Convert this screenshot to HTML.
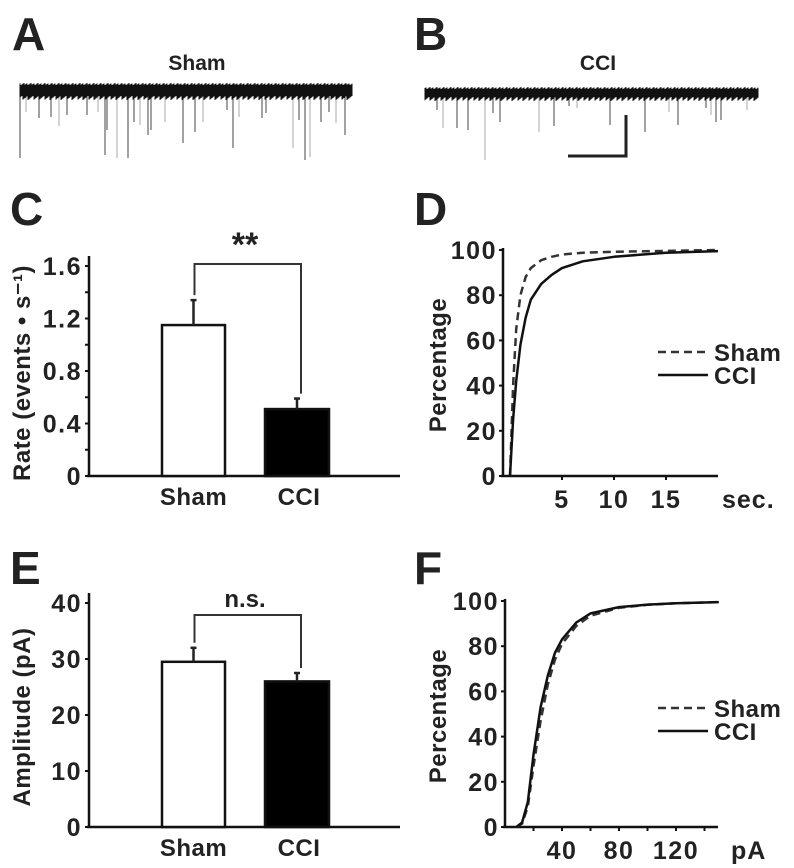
<!DOCTYPE html>
<html><head><meta charset="utf-8"><style>
html,body{margin:0;padding:0;background:#fff;}
svg{display:block;}
text{font-family:"Liberation Sans",Arial,sans-serif;font-weight:bold;fill:#222;}
</style></head><body>
<svg id="fig" width="794" height="868" viewBox="0 0 794 868">
<g id="root"></g>
</svg>
<script>
// Panel C data
const rateCats = ["Sham","CCI"];
const rateMeans = [1.15, 0.51];
const rateErrs = [0.19, 0.08];
const rateTicks = [0,0.4,0.8,1.2,1.6];
// Panel E data
const ampCats = ["Sham","CCI"];
const ampMeans = [29.5, 26.0];
const ampErrs = [2.5, 1.5];
const ampTicks = [0,10,20,30,40];
// Panel D data (inter-event interval CDF)
const ieiX = [0,0.3,0.6,1,1.5,2,3,4,5,7,10,15,20];
const ieiSham = [0,40,65,80,88,92,95.5,97,98,98.8,99.2,99.6,100];
const ieiCCI = [0,25,42,58,70,78,85,89,92,95,97,98.8,99.5];
const ieiTicks = [5,10,15];
// Panel F data (amplitude CDF)
const ampCdfX = [8,12,16,20,25,30,35,40,50,60,80,100,120,150];
const ampCdfSham = [0,1.5,9,27,47,63,74,81,89,93.5,97,98.3,99,99.5];
const ampCdfCCI = [0,2,11,32,53,67,77,83,90.5,94.5,97.3,98.4,99,99.5];
const ampCdfTicks = [40,80,120];
const pctTicks = [0,20,40,60,80,100];
// Trace event depths
const shamSpikeX = [20,26,39,51,59,67,87,98,105,107,117,128,134,140,148,151,165,183,195,203,227,233,239,262,266,293,299,305,310,321,329,336,345];
const shamSpikeY = [158,112,118,117,126,115,115,112,155,130,158,158,122,125,135,130,122,143,132,122,110,148,117,118,113,148,120,160,157,122,112,123,135];
const cciSpikeX = [437,443,457,468,485,493,500,539,554,569,577,610,645,669,678,706,711,716,721,747];
const cciSpikeY = [110,128,128,130,160,113,122,132,126,106,108,125,132,112,125,108,115,122,120,110];

const NS="http://www.w3.org/2000/svg";
const root=document.getElementById('root');
function mk(tag,attrs,parent){const e=document.createElementNS(NS,tag);for(const k in attrs)e.setAttribute(k,attrs[k]);(parent||root).appendChild(e);return e;}
function txt(x,y,s,size,anchor,parent,ls){const t=mk('text',{x:x,y:y,'font-size':size,'text-anchor':anchor||'middle'},parent);if(ls)t.setAttribute('letter-spacing',ls);t.textContent=s;return t;}

// Panel letters
[["A",12,50],["B",414,50],["C",10,225],["D",414,225],["E",10,584],["F",414,584]].forEach(p=>{
 const t=txt(p[1],p[2],p[0],46,'start');
 
 
});

// Traces
function trace(x0,x1,yTop,yBot,sx,sy,name,title,tx){
 const g=mk('g',{});
 
 
 const t=txt(tx,70,title,21,'middle',g);
 
 
 for(let i=0;i<sx.length;i++){
  mk('line',{x1:sx[i],x2:sx[i],y1:yBot-2,y2:sy[i],stroke:i%3==1?'#aaa':'#444','stroke-width':1},g);
 }
 let d='';
 for(let x=x0;x<=x1;x+=1){const j=((x*37)%7)/3;const k=((x*53)%11)/2.5;d+='M'+x+' '+(yTop-j)+'V'+(yBot+k);}
 mk('path',{d:d,stroke:'#111','stroke-width':1,fill:'none'},g);
}
trace(20,352,85,96,shamSpikeX,shamSpikeY,'sham-trace','Sham',197);
trace(425,758,89,97,cciSpikeX,cciSpikeY,'cci-trace','CCI',598);
const sb=mk('polyline',{points:'568,156 626,156 626,115',fill:'none',stroke:'#222','stroke-width':3});



// Bar chart
function barChart(cfg){
 const g=mk('g',{});
 
 
 const yS=v=>cfg.y0-(v-cfg.ticks[0])/(cfg.ticks[cfg.ticks.length-1]-cfg.ticks[0])*(cfg.y0-cfg.y1);
 const ax=mk('line',{x1:cfg.ax,x2:cfg.ax,y1:cfg.y1-10,y2:cfg.y0+1,stroke:'#111','stroke-width':2.5},g);
 
 const xa=mk('line',{x1:cfg.ax-2,x2:400,y1:cfg.y0,y2:cfg.y0,stroke:'#111','stroke-width':2.5},g);
 
 cfg.ticks.forEach((t,i)=>{
  const y=yS(t);
  mk('line',{x1:cfg.ax-4,x2:cfg.ax,y1:y,y2:y,stroke:'#111','stroke-width':2},g);
  if(cfg.minor&&i<cfg.ticks.length-1){const ym=(y+yS(cfg.ticks[i+1]))/2;mk('line',{x1:cfg.ax-4,x2:cfg.ax,y1:ym,y2:ym,stroke:'#111','stroke-width':2},g);}
  const l=txt(cfg.ax-7,y+9,cfg.fmt(t),25,'end',g,1.5);
  
 });
 const yt=txt(0,0,cfg.ytitle,24,'middle',g,0.5);
 yt.setAttribute('transform','translate('+cfg.ytx+','+((cfg.y0+cfg.y1)/2+2)+') rotate(-90)');
 
 const bx=[[162,225],[265,329]];
 const tops=[];
 cfg.cats.forEach((c,i)=>{
  const top=yS(cfg.means[i]),eb=yS(cfg.means[i]+cfg.errs[i]);
  const cx=(bx[i][0]+bx[i][1])/2;
  const r=mk('rect',{x:bx[i][0],y:top,width:bx[i][1]-bx[i][0],height:cfg.y0-top,fill:i?'#000':'#fff',stroke:'#111','stroke-width':2.5},g);
  
  mk('line',{x1:cx,x2:cx,y1:top,y2:eb,stroke:'#222','stroke-width':2.5},g);
  mk('line',{x1:cx-3,x2:cx+3,y1:eb,y2:eb,stroke:'#222','stroke-width':2.5},g);
  tops.push([cx,eb]);
  const xl=txt(cx+(i?2:0),cfg.y0+29,c,24,'middle',g,0.5);
  
 });
 const br=mk('polyline',{points:(tops[0][0]+1)+','+(tops[0][1]-5)+' '+(tops[0][0]+1)+','+cfg.by+' '+(tops[1][0]+4)+','+cfg.by+' '+(tops[1][0]+4)+','+(tops[1][1]-5),fill:'none',stroke:'#333','stroke-width':2},g);
 
 const st=txt(245,cfg.by-8,cfg.sig,cfg.sigSize,'middle',g);
 
}
barChart({name:'rate-chart',cats:rateCats,means:rateMeans,errs:rateErrs,ticks:rateTicks,ax:89,y0:476,y1:266,minor:true,fmt:t=>t===0?'0':t.toFixed(1),ytitle:'Rate (events \u2022 s\u207B\u00B9)',ytx:30,by:264,sig:'**',sigSize:34});
barChart({name:'amplitude-chart',cats:ampCats,means:ampMeans,errs:ampErrs,ticks:ampTicks,ax:89,y0:827,y1:603,minor:false,fmt:t=>String(t),ytitle:'Amplitude (pA)',ytx:30,by:615,sig:'n.s.',sigSize:24});

// CDF charts
function cdf(cfg){
 const g=mk('g',{});
 
 
 const xS=v=>cfg.x0+v*cfg.kx;
 const yS=v=>cfg.y0-v/100*(cfg.y0-cfg.y1);
 const ya=mk('line',{x1:cfg.ax,x2:cfg.ax,y1:cfg.y1-2,y2:cfg.y0+1,stroke:'#111','stroke-width':2.5},g);
 
 const xa=mk('line',{x1:cfg.ax-2,x2:cfg.xEnd,y1:cfg.y0,y2:cfg.y0,stroke:'#111','stroke-width':2.5},g);
 
 pctTicks.forEach(t=>{
  const y=yS(t);
  mk('line',{x1:cfg.ax-4,x2:cfg.ax,y1:y,y2:y,stroke:'#111','stroke-width':2},g);
  const l=txt(cfg.ax-6,y+9,String(t),25,'end',g,1.5);
  
 });
 cfg.minorX.forEach(t=>{mk('line',{x1:xS(t),x2:xS(t),y1:cfg.y0,y2:cfg.y0+4,stroke:'#111','stroke-width':2},g);});
 cfg.ticks.forEach(t=>{
  const x=xS(t);
  mk('line',{x1:x,x2:x,y1:cfg.y0,y2:cfg.y0+4,stroke:'#111','stroke-width':2},g);
  const l=txt(x,cfg.y0+32,String(t),25,'middle',g,1.5);
  
 });
 const u=txt(cfg.unitX,cfg.y0+32,cfg.unit,25,'start',g,1);
 
 const yt=txt(0,0,'Percentage',24,'middle',g,0.5);
 yt.setAttribute('transform','translate(446,'+((cfg.y0+cfg.y1)/2+2)+') rotate(-90)');
 
 const pts=a=>cfg.xs.map((x,i)=>xS(x).toFixed(1)+','+yS(a[i]).toFixed(1)).join(' ');
 const s=mk('polyline',{points:pts(cfg.sham),fill:'none',stroke:'#333','stroke-width':2.5,'stroke-dasharray':'8,5','stroke-linejoin':'round'},g);
 
 const c=mk('polyline',{points:pts(cfg.cci),fill:'none',stroke:'#111','stroke-width':2.5,'stroke-linejoin':'round'},g);
 
 const lg=mk('g',{},g);
 
 const le1=mk('g',{},lg);
 mk('line',{x1:658,x2:708,y1:cfg.ly,y2:cfg.ly,stroke:'#333','stroke-width':2.5,'stroke-dasharray':'8,5'},le1);
 txt(714,cfg.ly+9,'Sham',24,'start',le1,0.5);
 const le2=mk('g',{},lg);
 mk('line',{x1:658,x2:708,y1:cfg.ly+23,y2:cfg.ly+23,stroke:'#111','stroke-width':2.5},le2);
 txt(714,cfg.ly+32,'CCI',24,'start',le2,0.5);
}
cdf({name:'interval-cdf-chart',xs:ieiX,sham:ieiSham,cci:ieiCCI,ticks:ieiTicks,minorX:[],x0:510,kx:10.4,ax:503,y0:476,y1:250,xEnd:718,unit:'sec.',unitX:722,ly:352});
cdf({name:'amplitude-cdf-chart',xs:ampCdfX,sham:ampCdfSham,cci:ampCdfCCI,ticks:ampCdfTicks,minorX:[20,60,100,140],x0:505,kx:1.425,ax:505,y0:827,y1:601,xEnd:718,unit:'pA',unitX:731,ly:708});
</script>
</body></html>
